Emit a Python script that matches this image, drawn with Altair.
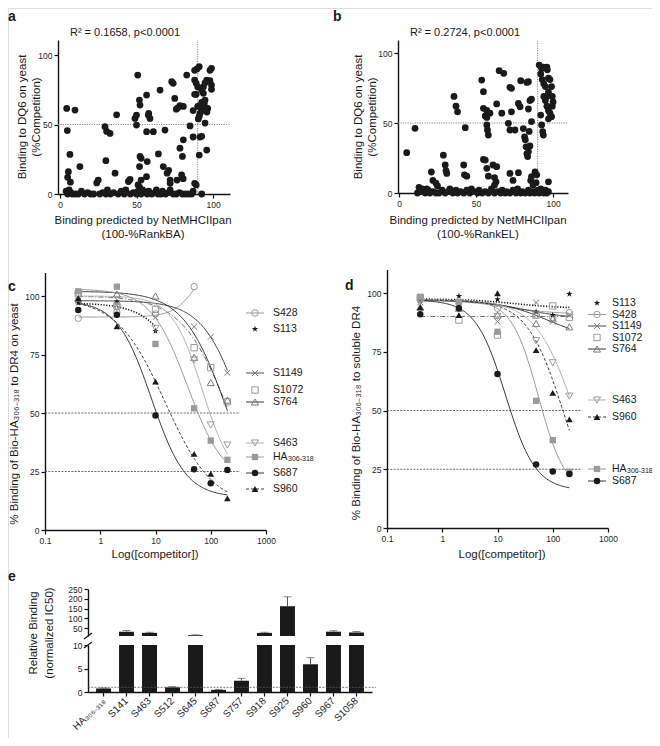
import altair as alt
import numpy as np
import pandas as pd

FONT = "Liberation Sans"
INK = "#1a1a1a"
GREY = "#9a9a9a"
MID = "#7a7a7a"
W, H = 644, 730
MARGIN = 8


def P(v):
    return v - MARGIN


ONE = pd.DataFrame({"k": [0]})

# ---------------- panel a : (predicted, measured) ----------------
a_points = [
    (4.4, 61.6), (9.8, 60.4), (4.8, 45.6), (6.5, 28.5), (5.5, 16), (5, 12), (6.8, 8.5), (13, 19.7),
    (29.4, 48.4), (30.5, 45), (32.7, 43.6), (30, 24), (36, 15), (37, 57),
    (24, 8), (25, 10), (44.7, 9), (45.8, 10.5),
    (49, 54.4), (50, 56.8), (50, 49.6), (50.8, 85.6), (51.9, 67.6), (52.3, 64), (52.3, 27), (53, 25.7),
    (52, 19.7), (53, 10), (51, 6.5), (52, 5),
    (56.6, 71.2), (57.7, 56.8), (58.8, 54.4), (58, 58), (56.6, 44.8), (57, 23.3), (56.5, 12.5), (61, 44.8),
    (65.4, 74.8), (64.3, 28.8), (67.5, 19.7), (68.6, 46), (70, 15), (71, 17), (72, 10), (73, 80.8),
    (74, 79.6), (75, 68.8), (72, 7.7),
    (76, 61), (78.4, 63.6), (80.6, 63), (77, 62), (76.5, 10), (78.4, 33), (80.6, 39), (80, 27), (79.5, 13.7),
    (80.5, 11),
    (82.8, 85.6), (85, 49), (87, 60), (87, 41), (88, 89), (89.5, 90), (91, 91.6), (88, 82), (89, 79.6),
    (90, 77), (88, 71.7), (89, 71.7),
    (88, 7.7), (89, 6.5), (91, 28), (91.5, 41), (92.6, 41.5), (90.4, 54), (91.5, 58), (92.6, 60), (92.6, 66),
    (93.7, 77), (94.8, 80),
    (93.7, 63), (94.3, 65), (94.8, 67.6), (94.8, 51), (95.9, 82), (98, 81.5), (95.9, 31.6), (96.5, 61.6),
    (96, 59), (98, 89), (99, 90.4), (99, 78.4), (99, 75.3), (92.6, 74.8), (93.7, 72.4), (90, 63), (91, 56),
]
a_floor = [
    (4, 2), (5, 0), (6, 3), (7, 1), (8, 0), (10, 0), (12, 0), (14, 2), (16, 0), (18, 1), (20, 0), (22, 0),
    (26, 0), (28, 1), (30, 0), (31, 3), (33, 0), (35, 1), (38, 0), (40, 2), (42, 0), (43, 3), (46, 0),
    (48, 1), (50, 0), (51, 2), (53, 0), (54, 3), (55, 1), (57, 0), (58, 2), (60, 0), (62, 1), (63, 3),
    (64, 0), (66, 0), (67, 2), (69, 0), (71, 1), (72, 3), (74, 0), (76, 0), (78, 1), (80, 0), (82, 0),
    (84, 0), (86, 0), (87, 2), (92.6, 0),
]

# ---------------- panel b ----------------
b_points = [
    (5, 28.8), (10.4, 46.2), (21, 15), (28.8, 27), (30, 20), (30.5, 16), (31, 14), (35.7, 69), (37, 62),
    (38, 58), (42, 20), (42.5, 13), (44, 12), (43, 46.7),
    (22, 9), (24, 7), (25, 5), (18, 3), (13, 4), (33, 3), (37, 2),
    (53.7, 80.7), (54.8, 72.4), (54.8, 60.5), (57, 59), (56, 55), (57, 54), (57, 48.6), (57.4, 45),
    (58, 41.4), (54.8, 24), (56, 23.5), (57, 17.6), (58, 12), (61, 20), (63.4, 18.8), (59, 57), (62, 11),
    (65, 87.4), (68, 85.5), (63.4, 63.6), (66.7, 57), (63, 8), (62, 5.7),
    (72, 75.5), (73, 74.8), (71, 49.8), (72, 45), (73, 58), (75.3, 45), (74, 9), (72, 14), (77.5, 64),
    (78.6, 61.7), (79, 80.2), (77.5, 14.5),
    (80.7, 46), (81.5, 40), (82, 38), (82.5, 33), (83, 28), (83.5, 26), (84, 29.5), (83, 79), (84, 79.5),
    (84, 60), (85, 66), (86, 67), (84.5, 44), (85, 33.6), (85.5, 9), (86, 11.7), (86, 51), (88.3, 15),
    (89.4, 13), (87, 5.7), (89, 7.4),
    (91, 91.4), (92.6, 89), (93.7, 90), (92, 85), (93, 81), (94, 78), (95, 76), (96, 90), (96.3, 88),
    (97, 82), (98, 81), (96, 69), (97, 72), (94, 69), (95, 66), (96, 62), (97, 59), (98, 57), (99, 54.5),
    (97, 53), (99.5, 62), (100, 65), (99.5, 69), (99, 76),
    (92, 55.7), (92.6, 48.6), (93.3, 43.8), (93.7, 41.4), (97, 8),
]
b_floor = [
    (12, 0), (14, 1), (15, 3), (17, 0), (19, 2), (20, 0), (22, 1), (24, 0), (26, 0), (28, 2), (30, 0),
    (32, 1), (35, 0), (38, 0), (40, 1), (42, 0), (44, 2), (46, 0), (47, 3), (49, 1), (51, 0), (52, 2),
    (54, 0), (56, 1), (58, 0), (60, 3), (62, 0), (64, 1), (66, 0), (67, 2), (69, 0), (70, 1), (72, 0),
    (74, 2), (76, 0), (77, 3), (79, 0), (80, 1), (82, 0), (84, 2), (85, 0), (87, 1), (88, 0), (90, 2),
    (91, 0), (92, 3), (93, 1), (94, 0), (95, 2), (96, 0), (97, 1),
]

# ---------------- panels c / d : competition data ----------------
conc = [0.4, 2, 10, 50, 100, 200]
SER = ["S428", "S113", "S1149", "S1072", "S764", "S463", "HA306-318", "S687", "S960"]

c_S428 = [90.5, 93, 92.3, 104]
c_S113 = [97, 97.6, 85]
c_S1149 = [98, 96, 90.9, 86.9, 82.6, 67.2]
c_S1072 = [101, 95.7, 94.3, 77.9, 69.4, 54.8]
c_S764 = [99, 100.8, 100, 73.8, 63, 55.5]
c_S463 = [100, 95, 86.2, 72.6, 44.9, 36.3]
c_HA = [102, 104, 79.5, 52, 38.2, 30]
c_S687 = [94, 92, 48.9, 26, 20, 25.6]
c_S960 = [99, 87, 63.4, 32.5, 24, 13.5]

d_S113 = [97, 98.7, 97.3, 92, 90.6, 99.6]
d_S428 = [97, 96, 93.5, 90.6, 89.6, 91.6]
d_S1149 = [96, 95, 87.8, 95.9, 87.8, 90.6]
d_S1072 = [98, 88.5, 82.1, 90.6, 94.5, 89.6]
d_S764 = [94, 93.5, 90.6, 87, 89, 85.6]
d_S463 = [97, 96, 90, 79.7, 70.3, 56.1]
d_HA = [98.4, 96, 83.5, 54.1, 37.4, 23.9]
d_S687 = [91, 93.5, 65.5, 27, 24, 23]
d_S960 = [93.9, 90.6, 99.9, 75.7, 57.5, 46.2]

# fitted 4-parameter curves (top, bottom, IC50, hill, last concentration), order of SER
c_top = [91, 97, 98, 100, 102, 100, 103, 98, 99]
c_bottom = [120, 0, 0, 0, 0, 20, 20, 14, 10]
c_ic50 = [60, 60, 400, 220, 200, 70, 38, 8.5, 15]
c_hill = [2, 1.2, 1.2, 1, 1.1, 1.6, 1.3, 1.4, 1]
c_xmax = [50, 10, 200, 200, 200, 200, 200, 200, 200]

d_top = [97, 97.5, 97, 90, 97, 97, 97, 97, 97]
d_bottom = [91, 93.5, 89, 90, 80, 0, 15, 16, 0]
d_ic50 = [15, 20, 30, 10, 80, 260, 55, 14, 160]
d_hill = [1, 1, 1, 1, 1, 1.2, 1.8, 1.6, 1.3]
d_xmax = [200, 200, 200, 200, 200, 200, 200, 200, 200]

# ---------------- panel e ----------------
e_labels = ["HA₃₀₆₋₃₁₈", "S141", "S463", "S512", "S645", "S687", "S757", "S918", "S925", "S960", "S967", "S1058"]
e_vals = [0.75, 32, 26, 1.0, 14, 0.45, 2.4, 26, 162, 5.9, 32, 28]
e_err = [0.1, 6, 3, 0.15, 2, 0.1, 0.5, 3, 48, 1.4, 5, 5]

STAR = ("M0,-1L0.235,-0.324L0.951,-0.309L0.38,0.124L0.588,0.809L0,0.4L-0.588,0.809"
        "L-0.38,0.124L-0.951,-0.309L-0.235,-0.324Z")
XPATH = "M-1,-1L1,1M-1,1L1,-1"

STYLE = {
    "S428": dict(shape="circle", filled=False, mc=GREY, lc=GREY, dash=None, lw=1.0, size=42, legline=True),
    "S113": dict(shape=STAR, filled=True, mc=INK, lc=INK, dash=[1.2, 1.6], lw=1.6, size=45, legline=False),
    "S1149": dict(shape=XPATH, filled=False, mc=MID, lc="#333333", dash=None, lw=0.9, size=34, legline=True),
    "S1072": dict(shape="square", filled=False, mc=GREY, lc="#555555", dash=[5, 2, 1, 2], lw=0.9, size=40, legline=False),
    "S764": dict(shape="triangle-up", filled=False, mc=MID, lc="#222222", dash=None, lw=0.9, size=50, legline=True),
    "S463": dict(shape="triangle-down", filled=False, mc=GREY, lc="#aaaaaa", dash=None, lw=0.9, size=50, legline=True),
    "HA306-318": dict(shape="square", filled=True, mc=GREY, lc="#999999", dash=None, lw=1.0, size=40, legline=True),
    "S687": dict(shape="circle", filled=True, mc=INK, lc="#222222", dash=None, lw=0.9, size=42, legline=True),
    "S960": dict(shape="triangle-up", filled=True, mc=INK, lc="#222222", dash=[3, 2], lw=0.9, size=45, legline=True),
}

LAYERS = []


def ax(orient, offset, values=None, fmt=None, **kw):
    d = dict(orient=orient, offset=offset, title=None, grid=False,
             labelFont=FONT, labelFontSize=8.5, labelColor="#262626",
             domainColor="#111111", domainWidth=1.4, tickColor="#111111",
             tickWidth=1.2, tickSize=4, labelPadding=2, labelFlush=False, labelOverlap=False)
    if values is not None:
        d["values"] = values
    if fmt:
        d["format"] = fmt
    d.update(kw)
    return alt.Axis(**d)


def txt(s, x, y, size=11.5, weight="normal", angle=0, align="center", baseline="middle", lh=None):
    kw = dict(text=s, font=FONT, fontSize=size, fontWeight=weight, angle=angle,
              align=align, baseline=baseline, color="#1a1a1a")
    if lh:
        kw["lineHeight"] = lh
    LAYERS.append(alt.Chart(ONE).mark_text(**kw).encode(x=alt.value(P(x)), y=alt.value(P(y))))


def scatter(points, xr, yr, xdom, ydom):
    df = pd.DataFrame(points, columns=["x", "y"])
    xs = alt.Scale(domain=xdom, range=[P(xr[0]), P(xr[1])], nice=False, zero=False)
    ys = alt.Scale(domain=ydom, range=[P(yr[0]), P(yr[1])], nice=False, zero=False)
    ref = pd.DataFrame({"x": [90, xdom[0]], "x2": [90, xdom[1]],
                        "y": [ydom[0], 50], "y2": [ydom[1], 50]})
    LAYERS.append(alt.Chart(ref).mark_rule(color="#888888", strokeDash=[1.2, 1.2], strokeWidth=1).encode(
        x=alt.X("x:Q", scale=xs, axis=ax("bottom", P(yr[0]) - H, [0, 50, 100])), x2="x2:Q",
        y=alt.Y("y:Q", scale=ys, axis=ax("left", -P(xr[0]), [0, 50, 100])), y2="y2:Q"))
    LAYERS.append(alt.Chart(df).mark_circle(size=46, color=INK, opacity=1).encode(
        x=alt.X("x:Q", scale=xs, axis=None), y=alt.Y("y:Q", scale=ys, axis=None)))


def legend_label(s, x, y):
    if s == "HA306-318":
        txt("HA", x, y, size=10.5, align="left")
        txt("306-318", x + 15, y + 1.5, size=7, align="left")
    else:
        txt(s, x, y, size=10.5, align="left")


def dose(vals, top, bot, ic50, hill, xmax, xr, yr, leg_order, leg_y, sym_x, txt_x):
    xs = alt.Scale(type="log", domain=[0.1, 1000], range=[P(xr[0]), P(xr[1])], nice=False)
    ys = alt.Scale(domain=[0, 110], range=[P(yr[0]), P(yr[1])], nice=False, zero=False)
    xax = ax("bottom", P(yr[0]) - H, [0.1, 1, 10, 100, 1000], fmt="~g")
    yax = ax("left", -P(xr[0]), [0, 25, 50, 75, 100])
    ref = pd.DataFrame({"x": [0.1, 0.1], "x2": [340, 340], "y": [50, 25]})
    LAYERS.append(alt.Chart(ref).mark_rule(color="#444444", strokeDash=[2, 1.3], strokeWidth=0.8).encode(
        x=alt.X("x:Q", scale=xs, axis=xax), x2="x2:Q", y=alt.Y("y:Q", scale=ys, axis=yax)))
    for i, s in enumerate(SER):
        st = STYLE[s]
        xg = np.logspace(np.log10(0.4), np.log10(xmax[i]), 120)
        yg = bot[i] + (top[i] - bot[i]) / (1 + (xg / ic50[i]) ** hill[i])
        lkw = dict(color=st["lc"], strokeWidth=st["lw"])
        if st["dash"]:
            lkw["strokeDash"] = st["dash"]
        LAYERS.append(alt.Chart(pd.DataFrame({"x": xg, "y": yg})).mark_line(**lkw).encode(
            x=alt.X("x:Q", scale=xs, axis=None), y=alt.Y("y:Q", scale=ys, axis=None)))
    for i, s in enumerate(SER):
        st = STYLE[s]
        v = vals[s]
        pdf = pd.DataFrame({"x": conc[:len(v)], "y": v})
        LAYERS.append(alt.Chart(pdf).mark_point(shape=st["shape"], filled=st["filled"], color=st["mc"],
                                                size=st["size"], strokeWidth=1, opacity=1).encode(
            x=alt.X("x:Q", scale=xs, axis=None), y=alt.Y("y:Q", scale=ys, axis=None)))
    for s, ly in zip(leg_order, leg_y):
        st = STYLE[s]
        if st["legline"]:
            lkw = dict(color=st["lc"], strokeWidth=st["lw"])
            if st["dash"]:
                lkw["strokeDash"] = st["dash"]
            LAYERS.append(alt.Chart(ONE).mark_rule(**lkw).encode(
                x=alt.value(P(sym_x - 9)), x2=alt.value(P(sym_x + 9)), y=alt.value(P(ly))))
        LAYERS.append(alt.Chart(ONE).mark_point(shape=st["shape"], filled=st["filled"], color=st["mc"],
                                                size=st["size"], strokeWidth=1, opacity=1).encode(
            x=alt.value(P(sym_x)), y=alt.value(P(ly))))
        legend_label(s, txt_x, ly)


# ---------------- build panels ----------------
scatter(a_points + a_floor, (58, 230), (194, 40), [-1.3, 111.1], [0, 110.8])
scatter(b_points + b_floor, (398, 568), (193, 40), [-0.65, 109.7], [0, 109.3])

c_vals = dict(zip(SER, [c_S428, c_S113, c_S1149, c_S1072, c_S764, c_S463, c_HA, c_S687, c_S960]))
d_vals = dict(zip(SER, [d_S428, d_S113, d_S1149, d_S1072, d_S764, d_S463, d_HA, d_S687, d_S960]))

dose(c_vals, c_top, c_bottom, c_ic50, c_hill, c_xmax, (45, 266), (530, 272.6),
     ["S428", "S113", "S1149", "S1072", "S764", "S463", "HA306-318", "S687", "S960"],
     [313, 329, 373, 390, 402, 443, 457, 473, 489], 255, 273)
dose(d_vals, d_top, d_bottom, d_ic50, d_hill, d_xmax, (387, 608), (528, 269.5),
     ["S113", "S428", "S1149", "S1072", "S764", "S463", "S960", "HA306-318", "S687"],
     [303, 314.5, 326, 337.5, 349, 400, 417, 469, 481], 597, 612)

# panel e (broken y axis: two segments)
e_df = pd.DataFrame({"cat": e_labels, "v": e_vals, "err": e_err})
e_df["lo"] = e_df["v"].clip(upper=10)
e_df["base"] = 0.0
e_df["top"] = e_df["v"] + e_df["err"]
e_up = e_df[e_df["v"] > 10].copy()
e_up["base"] = 10.0
e_lo_err = e_df[e_df["v"] <= 10]

xe = alt.Scale(domain=e_labels, range=[P(88), P(372)], paddingInner=0.35, paddingOuter=0.35)
yu = alt.Scale(domain=[10, 250], range=[P(636), P(589)], nice=False, zero=False)
yl = alt.Scale(domain=[0, 10], range=[P(692), P(645)], nice=False, zero=False)
xa_none = alt.X("cat:N", scale=xe, axis=None, sort=e_labels)
xa_lo = alt.X("cat:N", scale=xe, sort=e_labels,
              axis=ax("bottom", P(692) - H, labelAngle=-45, labelAlign="right", labelBaseline="middle",
                      labelFontSize=10, labelPadding=3))

LAYERS.append(alt.Chart(e_up).mark_bar(color=INK).encode(
    x=xa_none, y=alt.Y("v:Q", scale=yu, axis=ax("left", -P(88), [50, 100, 150, 200, 250])), y2="base:Q"))
LAYERS.append(alt.Chart(e_up).mark_rule(color="#555555", strokeWidth=1).encode(
    x=xa_none, y=alt.Y("v:Q", scale=yu, axis=None), y2="top:Q"))
LAYERS.append(alt.Chart(e_up).mark_tick(color="#555555", thickness=1, size=8).encode(
    x=xa_none, y=alt.Y("top:Q", scale=yu, axis=None)))
LAYERS.append(alt.Chart(e_df).mark_bar(color=INK).encode(
    x=xa_lo, y=alt.Y("lo:Q", scale=yl, axis=ax("left", -P(88), [0, 5, 10])), y2="base:Q"))
LAYERS.append(alt.Chart(e_lo_err).mark_rule(color="#555555", strokeWidth=1).encode(
    x=xa_none, y=alt.Y("v:Q", scale=yl, axis=None), y2="top:Q"))
LAYERS.append(alt.Chart(e_lo_err).mark_tick(color="#555555", thickness=1, size=8).encode(
    x=xa_none, y=alt.Y("top:Q", scale=yl, axis=None)))
LAYERS.append(alt.Chart(pd.DataFrame({"y": [1]})).mark_rule(
    color="#555555", strokeDash=[2, 1.3], strokeWidth=0.8).encode(
    x=alt.value(P(88)), x2=alt.value(P(376)), y=alt.Y("y:Q", scale=yl, axis=None)))

# axis break marks
LAYERS.append(alt.Chart(ONE).mark_rule(color="#111111", strokeWidth=1.2).encode(
    x=alt.value(P(84)), x2=alt.value(P(92)), y=alt.value(P(639)), y2=alt.value(P(633))))
LAYERS.append(alt.Chart(ONE).mark_rule(color="#111111", strokeWidth=1.2).encode(
    x=alt.value(P(84)), x2=alt.value(P(92)), y=alt.value(P(648)), y2=alt.value(P(642))))

# text (multi-line blocks are anchored at their first line)
for letter, lx, ly in [("a", 8, 21), ("b", 333, 21), ("c", 8, 291), ("d", 345, 290), ("e", 8, 581)]:
    txt(letter, lx, ly, size=14, weight="bold", align="left", baseline="alphabetic")
txt("R² = 0.1658, p<0.0001", 125, 33, size=11)
txt("R² = 0.2724, p<0.0001", 465, 33, size=11)
txt(["Binding to DQ6 on yeast", "(%Competition)"], 23, 117, angle=270, lh=14)
txt(["Binding to DQ6 on yeast", "(%Competition)"], 359, 117, angle=270, lh=14)
txt(["Binding predicted by NetMHCIIpan", "(100-%RankBA)"], 143, 221, lh=14)
txt(["Binding predicted by NetMHCIIpan", "(100-%RankEL)"], 478, 221, lh=14)
txt("% Binding of Bio-HA₃₀₆₋₃₁₈ to DR4 on yeast", 15, 414, angle=270)
txt("% Binding of Bio-HA₃₀₆₋₃₁₈ to soluble DR4", 357, 413, angle=270)
txt("Log([competitor])", 155, 555)
txt("Log([competitor])", 502, 555)
txt(["Relative Binding", "(normalized IC50)"], 34, 633, angle=270, lh=16)

chart = alt.layer(*LAYERS).resolve_scale(
    x="independent", y="independent"
).resolve_axis(x="independent", y="independent").properties(
    width=W, height=H, padding=0, autosize="none"
).configure_view(stroke=None).configure(font=FONT)

chart.save("out.html", embed_options={"renderer": "svg", "actions": False})
